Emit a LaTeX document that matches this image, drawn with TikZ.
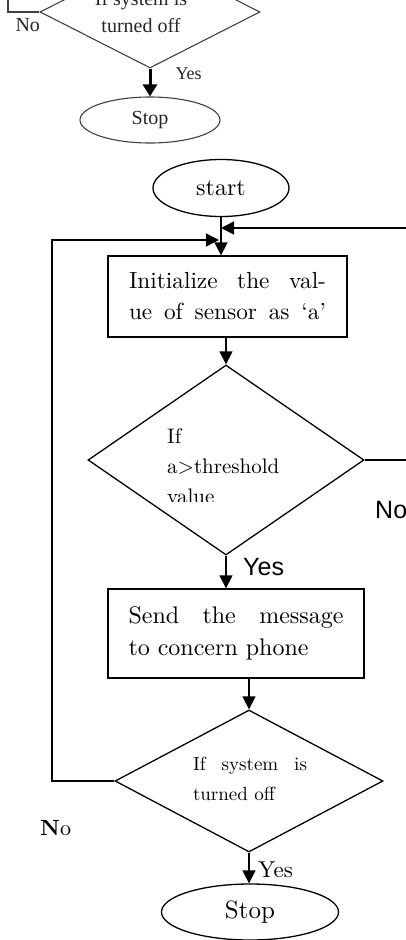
\documentclass[tikz,border=0pt]{standalone}
\usepackage{fontspec}
\setmainfont{lmroman10-regular}[Extension=.otf, BoldFont=lmroman10-bold]
\newfontfamily\arialfont{Liberation Sans}
\newfontfamily\timesfont{Liberation Serif}
\usetikzlibrary{shapes.geometric,arrows.meta}

\begin{document}
\begin{tikzpicture}[x=1pt,y=-1pt,
    process/.style ={rectangle, draw, line width=1.3pt, inner sep=0pt, align=center},
    decision/.style ={diamond, draw, line width=1.3pt, inner sep=0pt},
    terminal/.style ={ellipse, draw, line width=1.3pt, inner sep=0pt},
    flow/.style ={line width=1.4pt, -{Triangle[length=13pt,width=13pt]}},
    note/.style ={inner sep=0pt, anchor=base west},
    oldpart/.style ={draw=black!75, line width=1.1pt, text=black!85, inner sep=0pt,
      font=\timesfont\fontsize{20}{27}\selectfont}]
   \useasboundingbox (0,0) rectangle (406,940);
   \clip (0,0) rectangle (406,940);
   % end of the chart above
   \node[decision, oldpart, minimum width=220pt, minimum height=112pt] (oldcheck) at (150,12) {};
   \node[oldpart, draw=none, align=center] (oldchecktext) at (141,12) {If system is\\turned off};
   \coordinate (oldback) at (8,-5);
   \draw[oldpart] (oldcheck.west) -| (oldback);
   \node[oldpart, draw=none, note] (oldno) at (15,31) {No};
   \node[terminal, oldpart, minimum width=140pt, minimum height=46pt] (oldstop) at (150,120) {Stop};
   \draw[line width=3pt, -{Triangle[length=12pt,width=14pt]}] (oldcheck.south) -- (oldstop.north);
   \node[oldpart, draw=none, note, font=\timesfont\fontsize{18}{22}\selectfont] (oldyes) at (175,79) {Yes};
   % main chart
   \node[terminal, minimum width=136pt, minimum height=57pt, font=\fontsize{24}{28}\selectfont] (start) at (221,188) {start};
   \node[process, minimum width=239pt, minimum height=81pt, font=\fontsize{23.3}{31}\selectfont] (init) at (227.5,296.5)
     {\makebox[197pt][s]{Initialize the val-}\\\makebox[197pt][s]{ue of sensor as ‘a’}};
   \node[decision, minimum width=276pt, minimum height=190pt] (thr) at (226,460) {};
   \begin{scope}
     \clip (80,380) rectangle (370,501);
     \node[inner sep=0pt, anchor=west, align=left, font=\fontsize{21}{30}\selectfont] (thrtext) at (167,466) {If\\a>threshold\\value};
   \end{scope}
   \node[process, minimum width=256pt, minimum height=89pt, font=\fontsize{24}{32}\selectfont] (send) at (236,633.5)
     {\makebox[215pt][s]{Send the message}\\\makebox[215pt][l]{to concern phone}};
   \node[decision, minimum width=268pt, minimum height=142pt] (check) at (249,781) {};
   \node[inner sep=0pt, align=left, font=\fontsize{19}{30}\selectfont] (checktext) at (250,779)
     {\makebox[114pt][s]{If system is}\\\makebox[114pt][l]{turned off}};
   \node[terminal, minimum width=177pt, minimum height=56pt, font=\fontsize{25}{30}\selectfont] (stop) at (250,912) {Stop};
   % labels
   \node[note, font=\arialfont\fontsize{25}{30}\selectfont] (thrno) at (375,518) {No};
   \node[note, font=\arialfont\fontsize{25}{30}\selectfont] (thryes) at (243,575) {Yes};
   \node[note, font=\fontsize{22}{26}\selectfont] (checkno) at (40,835) {\textbf{N}o};
   \node[note, font=\fontsize{23}{28}\selectfont] (checkyes) at (258,877) {Yes};
   % connectors
   \coordinate (backin) at (420,228);
   \coordinate (throut) at (420,460);
   \coordinate (loopcorner) at (52,240);
   \coordinate (loopend) at (219,240);
   \draw[flow] (start.south) -- (start.south |- init.north);
   \draw[flow] (backin) -- (start.south |- backin);
   \draw[flow] (thr.north |- init.south) -- (thr.north);
   \draw[line width=1.4pt] (thr.east) -- (throut);
   \draw[flow] (thr.south) -- (thr.south |- send.north);
   \draw[flow] (check.north |- send.south) -- (check.north);
   \draw[flow] (check.west) -| (loopcorner) -- (loopend);
   \draw[flow] (check.south) -- (check.south |- stop.north);
\end{tikzpicture}
\end{document}
